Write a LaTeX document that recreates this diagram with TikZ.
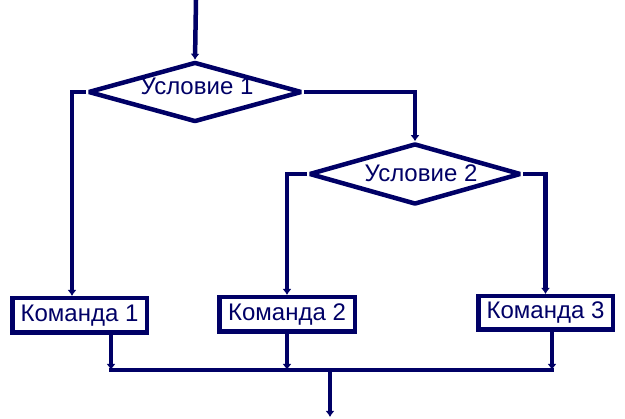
\documentclass[tikz,border=0pt]{standalone}
\usepackage{fontspec}
\setmainfont{Liberation Sans}
\usetikzlibrary{shapes.geometric,arrows.meta}
\definecolor{navy}{RGB}{0,0,102}
\tikzset{
  ln/.style={draw=navy,line width=4.5pt},
  arr/.style={ln,-{Latex[length=6pt,width=9pt]}},
  cond/.style={diamond,draw=navy,line width=4.5pt,line join=bevel,fill=white,inner sep=0pt,aspect=3.4},
  cmd/.style={rectangle,draw=navy,line width=4.5pt,fill=white,inner sep=0pt,text=navy,font=\fontsize{24}{28}\selectfont},
  lbl/.style={text=navy,inner sep=0pt,font=\fontsize{24}{28}\selectfont}
}
\begin{document}
\begin{tikzpicture}[x=1pt,y=-1pt]
\useasboundingbox (0,0) rectangle (625,419);
\node[cond,minimum width=214pt,minimum height=60pt] (d1) at (195,92) {};
\node[lbl] (t1) at (197,86) {Условие 1};
\node[cond,minimum width=212pt,minimum height=61pt] (d2) at (415,174) {};
\node[lbl] (t2) at (421,173) {Условие 2};
\node[cmd,minimum width=134.5pt,minimum height=34.5pt] (c1) at (79.5,315.5) {Команда 1};
\node[cmd,minimum width=135.5pt,minimum height=34.5pt] (c2) at (287,314.5) {\raisebox{3pt}{Команда 2}};
\node[cmd,minimum width=134.5pt,minimum height=33.5pt] (c3) at (545.5,313) {\raisebox{2pt}{Команда 3}};
\coordinate (start) at (196,0);
\coordinate (in1) at (72,0);
\coordinate (b1) at (111,0);
\coordinate (b3) at (552,0);
\coordinate (mc) at (330,370);
\coordinate (fin) at (330,417);
\draw[arr] (start) -- (d1.north);
\draw[arr] (d1.west) -| (in1 |- c1.north);
\draw[arr] (d1.east) -| (d2.north);
\draw[arr] (d2.west) -| (c2.north);
\draw[arr] (d2.east) -| (c3.north);
\draw[arr] (b1 |- c1.south) -- (b1 |- mc);
\draw[arr] (c2.south) -- (c2.south |- mc);
\draw[arr] (b3 |- c3.south) -- (b3 |- mc);
\draw[ln] ([xshift=-2pt]b1 |- mc) -- ([xshift=2pt]b3 |- mc);
\draw[arr] (mc) -- (fin);
\end{tikzpicture}
\end{document}
